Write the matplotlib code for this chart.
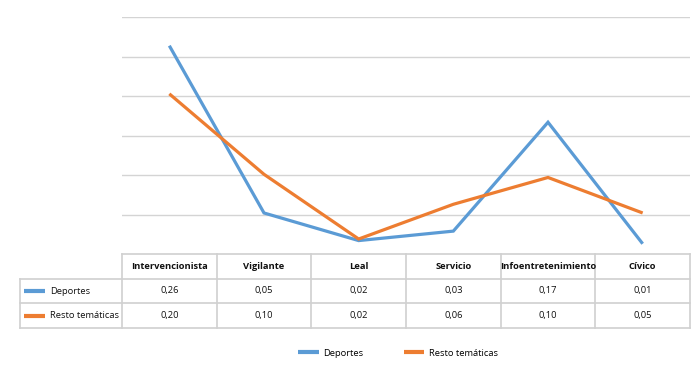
import matplotlib
matplotlib.use("Agg")
import matplotlib.pyplot as plt
from matplotlib.lines import Line2D

categories = ["Intervencionista", "Vigilante", "Leal", "Servicio", "Infoentretenimiento", "Cívico"]
series_names = ["Deportes", "Resto temáticas"]
deportes = [0.264, 0.052, 0.017, 0.029, 0.167, 0.013]
resto = [0.203, 0.101, 0.019, 0.063, 0.097, 0.052]
deportes_labels = ["0,26", "0,05", "0,02", "0,03", "0,17", "0,01"]
resto_labels = ["0,20", "0,10", "0,02", "0,06", "0,10", "0,05"]
y_ticks = [0.0, 0.05, 0.10, 0.15, 0.20, 0.25, 0.30]

colors = ["#5B9BD5", "#ED7D31"]
grid_c = "#d4d4d4"
font = ["Open Sans", "DejaVu Sans"]
plt.rcParams["font.family"] = font

W, H = 698, 366
fig = plt.figure(figsize=(W / 100, H / 100), dpi=100)

def fx(px):
    return px / W

def fy(py):
    return 1 - py / H

x0, x1 = 122, 690
ytop, ybot = 17.3, 254
ax = fig.add_axes([fx(x0), fy(ybot), fx(x1) - fx(x0), fy(ytop) - fy(ybot)])
n = len(categories)
xs = list(range(n))
ax.set_xlim(-0.5, n - 0.5)
ax.set_ylim(y_ticks[0], y_ticks[-1])
for t in y_ticks[1:]:
    ax.axhline(t, color=grid_c, lw=1.0, zorder=1)
for vals, c in zip([deportes, resto], colors):
    ax.plot(xs, vals, color=c, lw=2.3, solid_capstyle="butt", solid_joinstyle="miter", zorder=3)
ax.axis("off")

# data table
unit = (x1 - x0) / n
label_w = 102
tleft = -0.5 - label_w / unit
tbot = 328
tax = fig.add_axes([fx(x0 - label_w), fy(tbot), fx(x1) - fx(x0 - label_w), fy(ybot) - fy(tbot)])
tax.set_xlim(tleft, n - 0.5)
tax.set_ylim(3, 0)
tax.axis("off")
lc = "#d0d0d0"
lw = 1.2
tax.plot([-0.5, n - 0.5], [0, 0], color=lc, lw=lw, clip_on=False)
for r in [1, 2, 3]:
    tax.plot([tleft, n - 0.5], [r, r], color=lc, lw=lw, clip_on=False)
for k in range(n + 1):
    tax.plot([-0.5 + k, -0.5 + k], [0, 3], color=lc, lw=lw, clip_on=False)
tax.plot([tleft, tleft], [1, 3], color=lc, lw=lw, clip_on=False)

fs = 6.75
tc = "#111111"
for i, cat in enumerate(categories):
    tax.text(i, 0.5, cat, ha="center", va="center", fontsize=fs, fontweight="bold", color=tc)
    tax.text(i, 1.5, deportes_labels[i], ha="center", va="center", fontsize=fs, color=tc)
    tax.text(i, 2.5, resto_labels[i], ha="center", va="center", fontsize=fs, color=tc)
key_l = tleft + 4 / unit
key_r = key_l + 21 / unit
for r, (name, c) in enumerate(zip(series_names, colors)):
    tax.plot([key_l, key_r], [1.5 + r, 1.5 + r], color=c, lw=3, solid_capstyle="butt", clip_on=False)
    tax.text(key_r + 5 / unit, 1.5 + r, name, ha="left", va="center", fontsize=fs, color=tc)

handles = [Line2D([], [], color=c, lw=3, solid_capstyle="butt") for c in colors]
fig.legend(handles, series_names, loc="center", bbox_to_anchor=(fx(398), fy(353)), ncol=2,
           frameon=False, fontsize=fs, handlelength=2.2, handletextpad=0.45, columnspacing=4.3)

fig.savefig("out.png", dpi=100)
